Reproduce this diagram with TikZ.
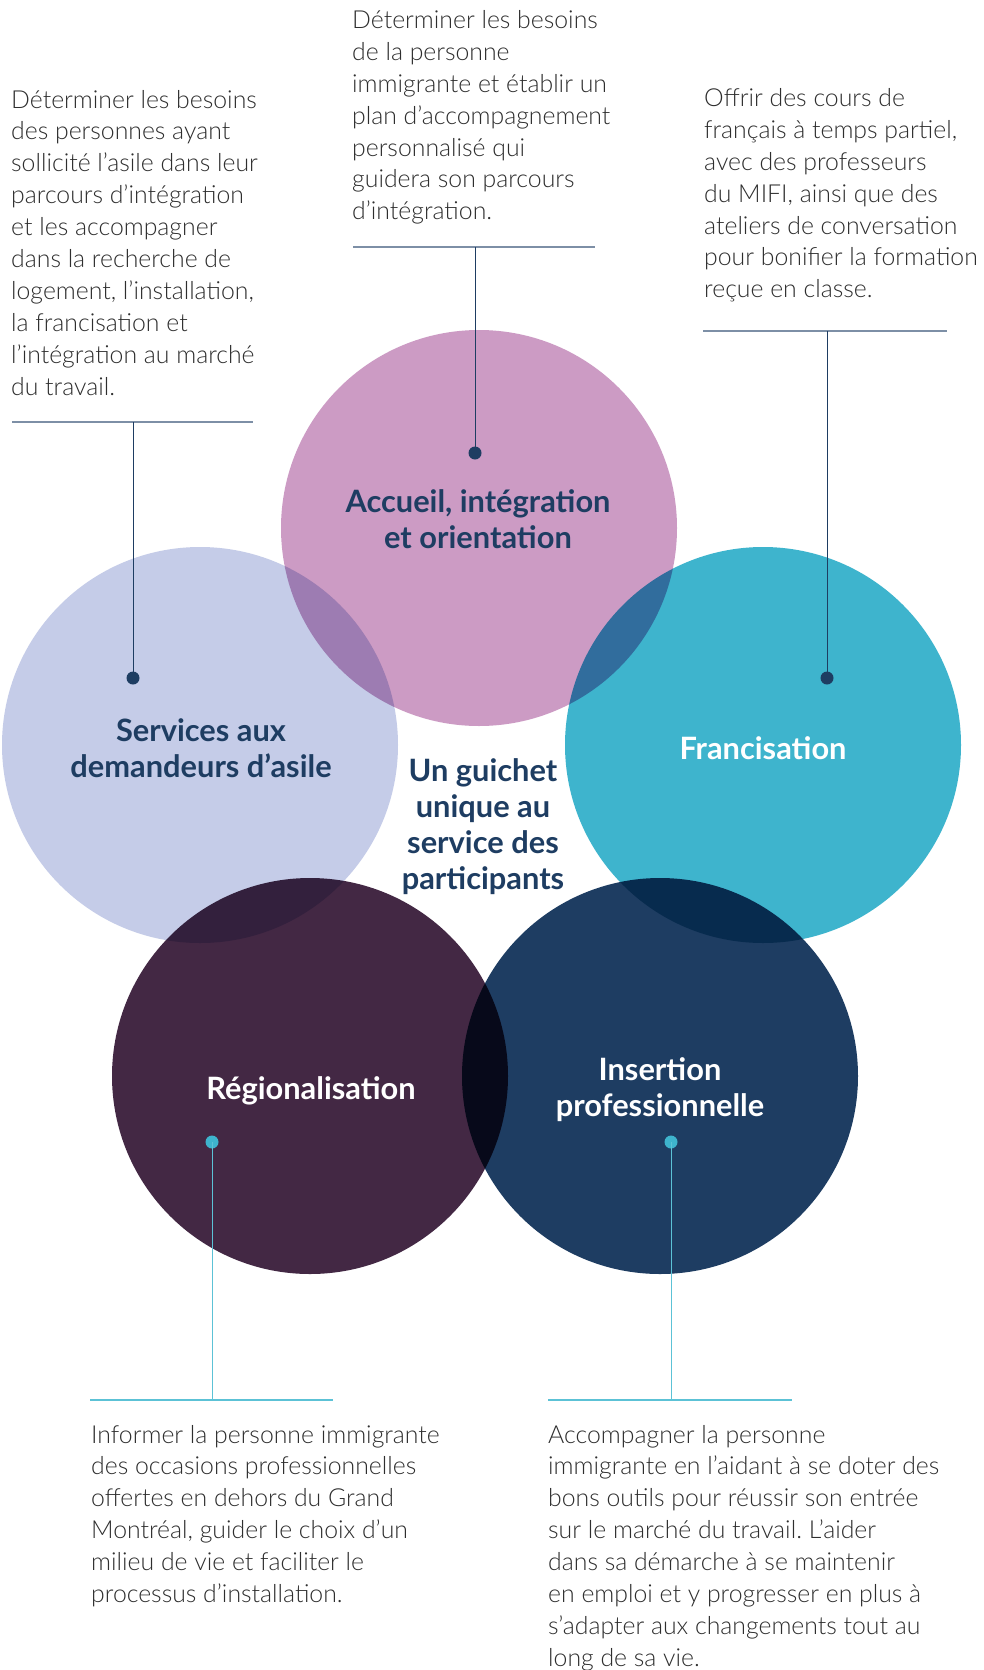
\documentclass[tikz,border=0pt]{standalone}
\usepackage{fontspec}
\IfFontExistsTF{Lato Light}{\newfontfamily\bodyfont{Lato Light}}{\newfontfamily\bodyfont{Lato}}
\newfontfamily\labfont{Lato}
\frenchspacing
\definecolor{pinkc}{HTML}{CC9BC4}
\definecolor{lavc}{HTML}{C5CCE8}
\definecolor{tealc}{HTML}{3EB4CD}
\definecolor{plumc}{HTML}{432844}
\definecolor{navyc}{HTML}{1E3D62}
\definecolor{bodytext}{HTML}{2E2E2E}
\definecolor{rulec}{HTML}{7D8FA6}
\definecolor{lightteal}{HTML}{5CC2D6}
\newcommand\lpara[1]{\begin{tabular}[t]{@{}l@{}}#1\end{tabular}}
\newcommand\cpara[1]{\begin{tabular}[t]{@{}c@{}}#1\end{tabular}}
\tikzset{
  body/.style={anchor=base west, inner sep=0pt, text=bodytext, font={\bodyfont\frenchspacing\fontsize{24.8}{31.9}\selectfont}},
  lab/.style={anchor=base, inner sep=0pt, font={\labfont\bfseries\fontsize{30.8}{36}\selectfont}},
  dot/.style={circle, inner sep=0pt, minimum size=13pt},
  toprule/.style={line width=1.5pt, draw=rulec},
  topstem/.style={line width=1pt, draw=navyc},
  botrule/.style={line width=1.5pt, draw=lightteal},
  botstem/.style={line width=1pt, draw=lightteal},
}
\begin{document}
\begin{tikzpicture}[x=1pt,y=-1pt]
\useasboundingbox (0,0) rectangle (983,1670);
\fill[white] (0,0) rectangle (983,1670);

\begin{scope}[blend group=multiply]
  \fill[lavc]  (200,745)  circle[radius=198pt];
  \fill[pinkc] (479,528)  circle[radius=198pt];
  \fill[tealc] (763,745)  circle[radius=198pt];
  \fill[plumc] (310,1076) circle[radius=198pt];
  \fill[navyc] (660,1076) circle[radius=198pt];
\end{scope}

% connectors top
\coordinate (r1a) at (12,422);  \coordinate (r1b) at (253,422); \coordinate (j1) at (133,422);
\coordinate (r2a) at (353,247); \coordinate (r2b) at (595,247); \coordinate (j2) at (475,247);
\coordinate (r3a) at (703,331); \coordinate (r3b) at (947,331); \coordinate (j3) at (827,331);
\node[dot, fill=navyc] (d1) at (133,678) {};
\node[dot, fill=navyc] (d2) at (475,453) {};
\node[dot, fill=navyc] (d3) at (827,678) {};
\draw[toprule] (r1a) -- (r1b);
\draw[toprule] (r2a) -- (r2b);
\draw[toprule] (r3a) -- (r3b);
\draw[topstem] (j1) -- (d1.center);
\draw[topstem] (j2) -- (d2.center);
\draw[topstem] (j3) -- (d3.center);

% connectors bottom
\coordinate (r4a) at (90,1400);  \coordinate (r4b) at (333,1400); \coordinate (j4) at (212,1400);
\coordinate (r5a) at (548,1400); \coordinate (r5b) at (792,1400); \coordinate (j5) at (671,1400);
\node[dot, fill=tealc] (d4) at (212,1142) {};
\node[dot, fill=tealc] (d5) at (671,1142) {};
\draw[botrule] (r4a) -- (r4b);
\draw[botrule] (r5a) -- (r5b);
\draw[botstem] (d4.center) -- (j4);
\draw[botstem] (d5.center) -- (j5);

% descriptions
\node[body] (tA) at (11,108) {\lpara{Déterminer les besoins\\des personnes ayant\\sollicité l’asile dans leur\\parcours d’intégration\\et les accompagner\\dans la recherche de\\logement, l’installation,\\la francisation et\\l’intégration au marché\\du travail.}};
\node[body] (tB) at (352,28.5) {\lpara{Déterminer les besoins\\de la personne\\immigrante et établir un\\plan d’accompagnement\\personnalisé qui\\guidera son parcours\\d’intégration.}};
\node[body] (tC) at (704,106.5) {\lpara{Offrir des cours de\\français à temps partiel,\\avec des professeurs\\du MIFI, ainsi que des\\ateliers de conversation\\pour bonifier la formation\\reçue en classe.}};
\node[body] (tD) at (91,1443) {\lpara{Informer la personne immigrante\\des occasions professionnelles\\offertes en dehors du Grand\\Montréal, guider le choix d’un\\milieu de vie et faciliter le\\processus d’installation.}};
\node[body] (tE) at (548,1443) {\lpara{Accompagner la personne\\immigrante en l’aidant à se doter des\\bons outils pour réussir son entrée\\sur le marché du travail. L’aider\\dans sa démarche à se maintenir\\en emploi et y progresser en plus à\\s’adapter aux changements tout au\\long de sa vie.}};

% labels
\node[lab, text=navyc] (lA) at (478,512) {\cpara{Accueil, intégration\\et orientation}};
\node[lab, text=navyc] (lB) at (201,741) {\cpara{Services aux\\demandeurs d’asile}};
\node[lab, text=white] (lC) at (763,759) {Francisation};
\node[lab, text=navyc] (lM) at (483,781) {\cpara{Un guichet\\unique au\\service des\\participants}};
\node[lab, text=white] (lD) at (311,1099) {Régionalisation};
\node[lab, text=white] (lE) at (660,1080) {\cpara{Insertion\\professionnelle}};
\end{tikzpicture}
\end{document}
